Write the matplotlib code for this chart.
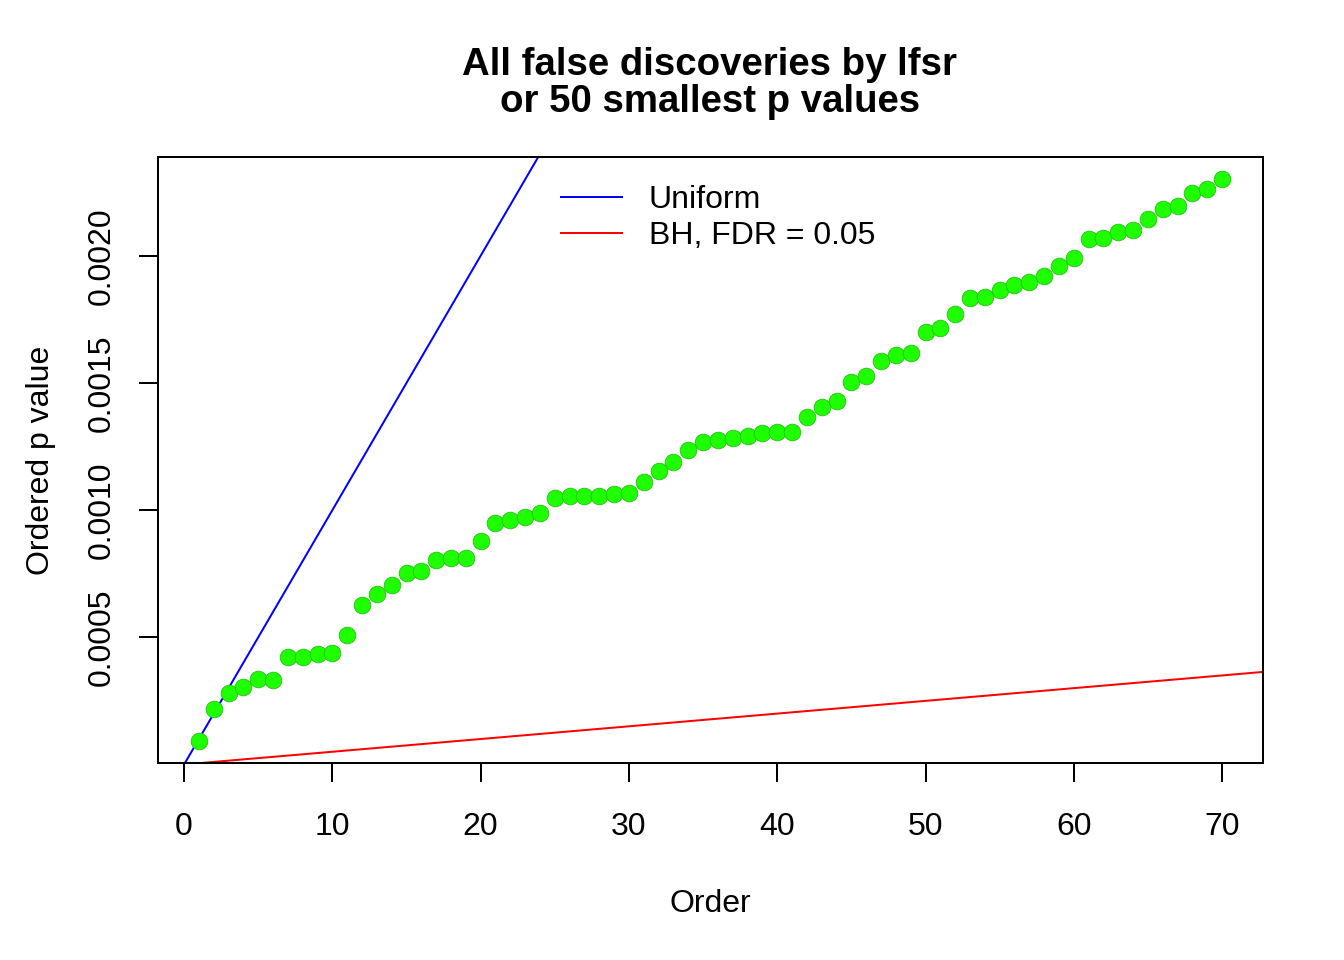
import matplotlib
matplotlib.use("Agg")
import matplotlib.pyplot as plt
import numpy as np
from matplotlib.lines import Line2D

plt.rcParams['font.family'] = ['Liberation Sans', 'DejaVu Sans']

# ordered p values (units of 1e-4)
p_sorted = np.array([
    0.94, 2.17, 2.79, 3.05, 3.35, 3.34, 4.24, 4.23, 4.33, 4.40,
    5.10, 6.28, 6.69, 7.04, 7.54, 7.59, 8.05, 8.13, 8.13, 8.78,
    9.50, 9.62, 9.74, 9.87, 10.46, 10.56, 10.56, 10.56, 10.65, 10.67,
    11.09, 11.52, 11.88, 12.38, 12.66, 12.76, 12.84, 12.90, 13.04, 13.09,
    13.09, 13.67, 14.06, 14.27, 15.04, 15.29, 15.86, 16.08, 16.18, 17.00,
    17.16, 17.71, 18.34, 18.38, 18.66, 18.85, 18.95, 19.19, 19.60, 19.91,
    20.67, 20.68, 20.93, 21.01, 21.44, 21.82, 21.94, 22.47, 22.63, 23.00,
]) * 1e-4
order = np.arange(1, len(p_sorted) + 1)

n_tests = 10000
fdr = 0.05
x_ticks = [0, 10, 20, 30, 40, 50, 60, 70]
y_ticks = [0.0005, 0.0010, 0.0015, 0.0020]
y_ticklabels = ["0.0005", "0.0010", "0.0015", "0.0020"]

fig = plt.figure(figsize=(13.44, 9.6), dpi=100)
ax = fig.add_axes([158 / 1344, 1 - 763 / 960, 1105 / 1344, 606 / 960])

lw = 1.44
fs = 23

ax.plot(order, p_sorted, linestyle='none', marker='o', markersize=12,
        color='#1eff00', markeredgecolor='#22c010', markeredgewidth=0.6, zorder=3)
ax.axline((0, 0), slope=1 / n_tests, color='blue', lw=lw)
ax.axline((0, 0), slope=fdr / n_tests, color='red', lw=lw)

# R style 4% padding
xr = order.max() - order.min()
yr = p_sorted.max() - p_sorted.min()
ax.set_xlim(order.min() - 0.04 * xr, order.max() + 0.04 * xr)
ax.set_ylim(p_sorted.min() - 0.04 * yr, p_sorted.max() + 0.04 * yr)

ax.set_xticks(x_ticks)
ax.set_yticks(y_ticks)
ax.set_yticklabels(y_ticklabels, rotation=90, va='center')
ax.tick_params(axis='both', length=14, width=lw, labelsize=fs)
ax.tick_params(axis='x', pad=21)
ax.tick_params(axis='y', pad=16)
for s in ax.spines.values():
    s.set_linewidth(lw)

ax.set_xlabel("Order", fontsize=fs, labelpad=34)
ax.set_ylabel("Ordered p value", fontsize=fs, labelpad=22)
fig.text(710 / 1344, 1 - 83.5 / 960, "All false discoveries by lfsr\nor 50 smallest p values",
         ha='center', va='center', fontsize=27.6, fontweight='bold', linespacing=1.05)

handles = [Line2D([], [], color='blue', lw=lw), Line2D([], [], color='red', lw=lw)]
ax.legend(handles, ["Uniform", "BH, FDR = 0.05"], frameon=False, fontsize=fs,
          loc='upper left', bbox_to_anchor=(0.353, 0.975), handlelength=1.9,
          handletextpad=0.85, labelspacing=0.2, borderaxespad=0)

fig.savefig("out.png", dpi=100)
